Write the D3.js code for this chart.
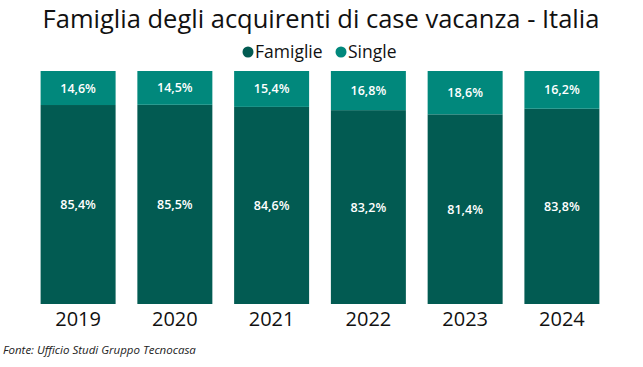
<!DOCTYPE html>
<html>
<head>
<meta charset="utf-8">
<script src="https://cdn.jsdelivr.net/npm/d3@7"></script>
<style>
  body { margin: 0; background: #fff; }
  svg { display: block; font-family: "Open Sans", "Noto Sans", sans-serif; }
</style>
</head>
<body>
<div id="chart"></div>
<script>
// data
var anni = ["2019", "2020", "2021", "2022", "2023", "2024"];
var famiglie = [85.4, 85.5, 84.6, 83.2, 81.4, 83.8];
var single = [14.6, 14.5, 15.4, 16.8, 18.6, 16.2];
var serie = ["Famiglie", "Single"];

var W = 643, H = 367;
var colori = {Famiglie: "#025b52", Single: "#01887c"};

var svg = d3.select("#chart").append("svg")
  .attr("width", W).attr("height", H);

// scales
var x = d3.scaleBand().domain(anni).range([29, 611]).paddingInner(0.225).paddingOuter(0.12);
var y = d3.scaleLinear().domain([0, 100]).range([304, 71]);

var righe = anni.map(function(a, i) { return {anno: a, Famiglie: famiglie[i], Single: single[i]}; });
var stack = d3.stack().keys(serie)(righe);

// title
svg.append("text")
  .attr("x", 321).attr("y", 28)
  .attr("text-anchor", "middle")
  .style("font-size", "25.5px")
  .attr("fill", "#111")
  .text("Famiglia degli acquirenti di case vacanza - Italia");

// legend
var leg = svg.append("g");
var legX = [248, 341];
serie.forEach(function(s, i) {
  leg.append("circle").attr("cx", legX[i]).attr("cy", 52).attr("r", 5.5).attr("fill", colori[s]);
  leg.append("text").attr("x", legX[i] + 7).attr("y", 58)
    .style("font-size", "17.5px").attr("fill", "#111").text(s);
});

// bars
var gruppi = svg.selectAll(".serie").data(stack).enter().append("g")
  .attr("fill", function(d) { return colori[d.key]; });

gruppi.selectAll("rect").data(function(d) { return d; }).enter().append("rect")
  .attr("x", function(d) { return x(d.data.anno); })
  .attr("width", x.bandwidth())
  .attr("y", function(d) { return y(d[1]); })
  .attr("height", function(d) { return y(d[0]) - y(d[1]); });

// labels
stack.forEach(function(s) {
  svg.selectAll(".lab-" + s.key).data(s).enter().append("text")
    .attr("x", function(d) { return x(d.data.anno) + x.bandwidth() / 2; })
    .attr("y", function(d) { return (y(d[0]) + y(d[1])) / 2 + 4.5; })
    .attr("text-anchor", "middle")
    .style("font-size", "12.5px")
    .style("font-weight", "600")
    .attr("fill", "#fff")
    .text(function(d) { return d3.format(".1f")(d[1] - d[0]).replace(".", ",") + "%"; });
});

// x axis
svg.append("g").attr("transform", "translate(0,304)")
  .call(d3.axisBottom(x).tickSize(0).tickPadding(8))
  .call(function(g) { g.select(".domain").remove(); })
  .selectAll("text")
  .style("font-family", "'Open Sans', sans-serif")
  .style("font-size", "20px")
  .attr("fill", "#111");

// source
svg.append("text")
  .attr("x", 3).attr("y", 354)
  .style("font-size", "11.5px").style("font-style", "italic")
  .attr("fill", "#222")
  .text("Fonte: Ufficio Studi Gruppo Tecnocasa");
</script>
</body>
</html>
